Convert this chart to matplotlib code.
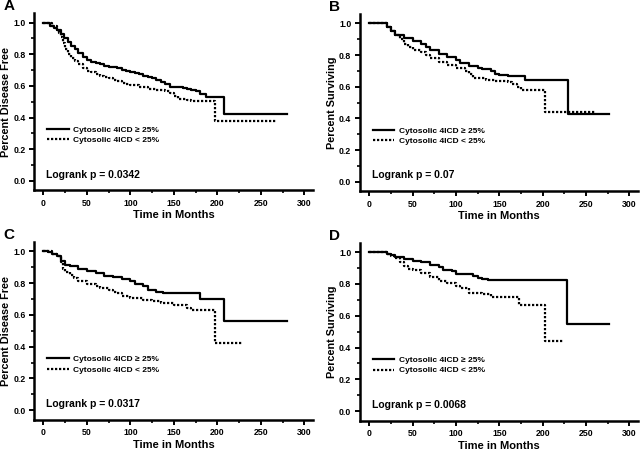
import matplotlib
matplotlib.use("Agg")
import matplotlib.pyplot as plt
from matplotlib.ticker import MultipleLocator

plt.rcParams["font.family"] = ["Liberation Sans", "DejaVu Sans"]
plt.rcParams["font.weight"] = "bold"

# ── Kaplan-Meier step data (months, survival fraction) ──
# Panel A: disease free
a_hi_t = [0, 4, 8, 12, 16, 20, 24, 28, 32, 36, 40, 45, 50, 55, 60, 65, 70, 75, 80, 85,
          90, 95, 100, 105, 110, 115, 120, 125, 130, 135, 140, 145, 160, 165, 170, 175,
          180, 187, 208, 280]
a_hi_s = [1.0, 0.995, 0.98, 0.965, 0.95, 0.93, 0.905, 0.88, 0.855, 0.83, 0.805, 0.785,
          0.765, 0.752, 0.745, 0.737, 0.728, 0.722, 0.717, 0.71, 0.703, 0.697, 0.69, 0.68,
          0.672, 0.664, 0.656, 0.648, 0.636, 0.624, 0.612, 0.59, 0.585, 0.578, 0.572,
          0.565, 0.55, 0.53, 0.42, 0.42]
a_lo_t = [0, 5, 10, 15, 18, 20, 22, 25, 28, 32, 36, 40, 45, 50, 55, 60, 65, 70, 75, 80,
          85, 90, 95, 100, 110, 120, 130, 140, 145, 150, 155, 165, 170, 197, 267]
a_lo_s = [1.0, 0.995, 0.98, 0.955, 0.935, 0.91, 0.87, 0.83, 0.80, 0.775, 0.755, 0.735,
          0.715, 0.695, 0.685, 0.675, 0.665, 0.655, 0.647, 0.64, 0.63, 0.62, 0.613, 0.607,
          0.595, 0.58, 0.572, 0.565, 0.555, 0.535, 0.52, 0.51, 0.505, 0.38, 0.38]

# Panel B: overall survival
b_hi_t = [0, 10, 20, 25, 30, 40, 50, 60, 65, 70, 80, 90, 100, 105, 115, 125, 130, 140,
          145, 150, 160, 175, 180, 229, 277]
b_hi_s = [1.0, 1.0, 0.98, 0.95, 0.93, 0.91, 0.89, 0.87, 0.85, 0.83, 0.81, 0.79, 0.77,
          0.75, 0.73, 0.72, 0.71, 0.70, 0.68, 0.675, 0.67, 0.665, 0.64, 0.425, 0.425]
b_lo_t = [0, 10, 20, 25, 30, 35, 40, 45, 50, 60, 65, 70, 80, 90, 100, 110, 115, 120, 135,
          145, 160, 165, 170, 175, 203, 262]
b_lo_s = [1.0, 1.0, 0.98, 0.955, 0.93, 0.90, 0.87, 0.85, 0.835, 0.82, 0.80, 0.78, 0.755,
          0.74, 0.72, 0.70, 0.68, 0.655, 0.645, 0.635, 0.63, 0.615, 0.60, 0.58, 0.44, 0.44]

# Panel C: disease free
c_hi_t = [0, 5, 10, 15, 20, 25, 30, 40, 50, 60, 70, 80, 90, 100, 105, 115, 120, 130,
          137, 180, 208, 280]
c_hi_s = [1.0, 0.995, 0.985, 0.97, 0.94, 0.915, 0.905, 0.89, 0.875, 0.86, 0.845, 0.835,
          0.825, 0.81, 0.795, 0.78, 0.755, 0.745, 0.735, 0.70, 0.56, 0.56]
c_lo_t = [0, 10, 15, 20, 22, 25, 30, 35, 40, 50, 60, 65, 75, 80, 85, 90, 100, 115, 125,
          135, 150, 165, 170, 197, 228]
c_lo_s = [1.0, 0.985, 0.97, 0.93, 0.89, 0.87, 0.85, 0.83, 0.81, 0.795, 0.78, 0.77, 0.755,
          0.745, 0.735, 0.72, 0.705, 0.695, 0.69, 0.675, 0.66, 0.645, 0.63, 0.42, 0.42]

# Panel D: overall survival
d_hi_t = [0, 17, 20, 25, 30, 40, 50, 60, 70, 80, 85, 95, 100, 115, 120, 125, 130, 137,
          228, 277]
d_hi_s = [1.0, 1.0, 0.99, 0.98, 0.97, 0.955, 0.945, 0.935, 0.92, 0.905, 0.89, 0.88,
          0.865, 0.86, 0.85, 0.84, 0.83, 0.825, 0.55, 0.55]
d_lo_t = [0, 17, 20, 25, 30, 35, 40, 45, 50, 60, 70, 80, 90, 100, 105, 115, 130, 140,
          155, 173, 203, 224]
d_lo_s = [1.0, 1.0, 0.985, 0.975, 0.96, 0.94, 0.915, 0.895, 0.885, 0.87, 0.845, 0.82,
          0.805, 0.79, 0.775, 0.745, 0.735, 0.72, 0.715, 0.665, 0.44, 0.44]

LABEL_HI = "Cytosolic 4ICD \u2265 25%"
LABEL_LO = "Cytosolic 4ICD < 25%"

panels = [
    ("A", "Percent Disease Free", "Logrank p = 0.0342", a_hi_t, a_hi_s, a_lo_t, a_lo_s),
    ("B", "Percent Surviving",    "Logrank p = 0.07",   b_hi_t, b_hi_s, b_lo_t, b_lo_s),
    ("C", "Percent Disease Free", "Logrank p = 0.0317", c_hi_t, c_hi_s, c_lo_t, c_lo_s),
    ("D", "Percent Surviving",    "Logrank p = 0.0068", d_hi_t, d_hi_s, d_lo_t, d_lo_s),
]

# axes rectangles [left, bottom, width, height] in figure fractions
rects = [
    [0.053, 0.577, 0.436, 0.394],
    [0.562, 0.575, 0.435, 0.394],
    [0.053, 0.067, 0.436, 0.396],
    [0.562, 0.065, 0.435, 0.396],
]

fig = plt.figure(figsize=(6.4, 4.5), dpi=100)

for rect, (letter, ylabel, ptxt, t1, s1, t2, s2) in zip(rects, panels):
    ax = fig.add_axes(rect)
    ax.step(t1, s1, where="post", color="black", linewidth=1.6, label=LABEL_HI)
    ax.step(t2, s2, where="post", color="black", linewidth=1.6,
            linestyle=(0, (1, 0.8)), label=LABEL_LO)

    ax.set_xlim(-11, 310)
    ax.set_ylim(-0.06, 1.06)
    ax.xaxis.set_major_locator(MultipleLocator(50))
    ax.xaxis.set_minor_locator(MultipleLocator(25))
    ax.yaxis.set_minor_locator(MultipleLocator(0.1))
    ax.set_yticks([0, 0.2, 0.4, 0.6, 0.8, 1.0])
    ax.set_yticklabels(["0.0", "0.2", "0.4", "0.6", "0.8", "1.0"])

    for side in ("top", "right"):
        ax.spines[side].set_visible(False)
    for side in ("left", "bottom"):
        ax.spines[side].set_linewidth(1.8)
    ax.tick_params(which="major", length=3.5, width=1.4, labelsize=6.3, pad=2.5)
    ax.tick_params(which="minor", length=2, width=1.2)
    for lbl in ax.get_xticklabels() + ax.get_yticklabels():
        lbl.set_fontweight("bold")

    ax.set_xlabel("Time in Months", fontsize=8, fontweight="bold", labelpad=2)
    ax.set_ylabel(ylabel, fontsize=7.8, fontweight="bold")
    ax.yaxis.set_label_coords(-0.099, 0.5)
    ax.yaxis.label.set_verticalalignment("center")

    ax.legend(loc="upper left", bbox_to_anchor=(4, 0.345), bbox_transform=ax.transData,
              frameon=False, handlelength=2.6, handletextpad=0.5,
              labelspacing=0.3, borderaxespad=0, borderpad=0,
              prop={"size": 6.0, "weight": "bold"})
    ax.text(3, 0.04, ptxt, fontsize=7.5, fontweight="bold", va="center", ha="left")

    ax.text(-0.11, 1.0, letter, transform=ax.transAxes, fontsize=11,
            fontweight="bold", ha="left", va="bottom")

fig.savefig("out.png", dpi=100)
